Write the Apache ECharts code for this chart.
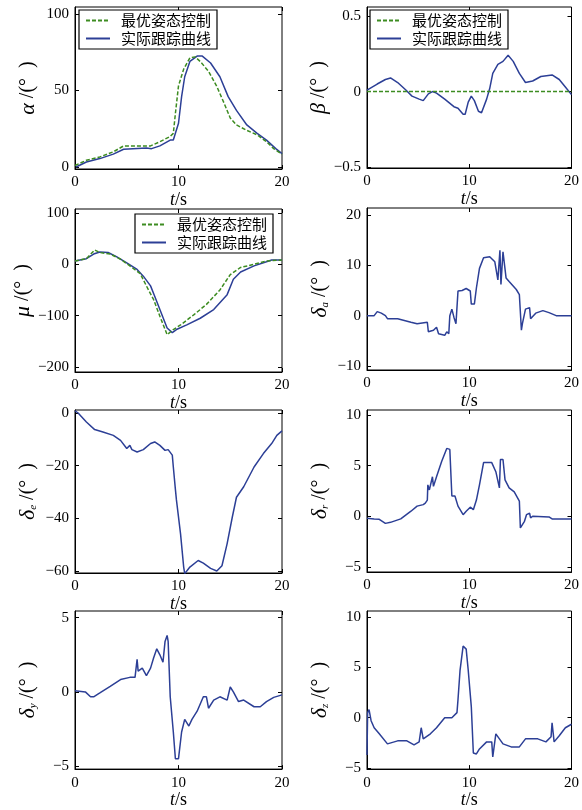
<!DOCTYPE html>
<html>
<head>
<meta charset="utf-8">
<script src="https://cdn.jsdelivr.net/npm/echarts@6/dist/echarts.min.js"></script>
<style>
html, body { margin: 0; padding: 0; background: #fff; }
#chart { width: 582px; height: 810px; }
</style>
</head>
<body>
<div id="chart"></div>
<script>
// 时间轴刻度
const xTicks = [0, 10, 20];

// 各子图纵轴刻度
const alphaTicks = [0, 50, 100];
const betaTicks = [-0.5, 0, 0.5];
const muTicks = [-200, -100, 0, 100];
const deltaATicks = [-10, 0, 10, 20];
const deltaETicks = [-60, -40, -20, 0];
const deltaRTicks = [-5, 0, 5, 10];
const deltaYTicks = [-5, 0, 5];
const deltaZTicks = [-5, 0, 5, 10];

// 攻角 α  [t, 值]
const alphaOpt = [[0,1],[1.1,4.4],[2.4,6.6],[3.7,9.9],[4.7,13.8],[5.6,13.8],[7.3,13.8],[8.2,16.5],[9.2,20],[9.5,22],[9.7,35],[10,53],[10.5,64],[11.1,71.4],[11.6,72],[12.1,69],[12.9,62.6],[13.7,52.7],[14.4,41.8],[15,32],[15.6,27.5],[16.6,24],[17.6,21],[18.5,16.5],[19.2,12],[20,8.4]];
const alphaAct = [[0.1,0],[1.1,3.3],[2.4,5.5],[3.7,8.4],[4.7,11.6],[5.6,12],[6.9,12.5],[7.4,12],[8.2,13.8],[9.2,17.6],[9.5,17.6],[10,28.6],[10.3,46],[10.6,59],[11.1,69],[11.8,72.5],[12.3,72.5],[13.1,68],[14,59],[14.8,46],[15.6,37],[16.6,27.5],[17.6,22],[18.5,17.6],[19.4,12],[20,8.8]];

// 侧滑角 β
const betaOpt = [[0,0],[20,0]];
const betaAct = [[0,0.01],[1,0.05],[1.8,0.08],[2.3,0.09],[3,0.06],[3.8,0.01],[4.4,-0.03],[5.1,-0.05],[5.5,-0.06],[6,-0.015],[6.4,0],[6.8,-0.01],[7.6,-0.05],[8.5,-0.1],[8.9,-0.11],[9.4,-0.15],[9.6,-0.15],[9.9,-0.07],[10.2,-0.03],[10.5,-0.06],[10.9,-0.13],[11.2,-0.14],[11.7,-0.05],[12,0.02],[12.3,0.12],[12.8,0.18],[13.3,0.2],[13.8,0.24],[14.3,0.2],[14.9,0.12],[15.5,0.06],[16.2,0.07],[17,0.1],[18.1,0.11],[18.8,0.08],[19.4,0.03],[20,-0.02]];

// 航迹滚转角 μ
const muOpt = [[0,6.5],[1.1,11],[1.9,28],[2.4,23],[3.4,20],[4.4,10],[5.3,-3],[6.3,-18],[6.9,-42],[7.6,-69],[8.2,-101],[8.9,-137],[9,-140],[9.5,-127],[10.2,-118],[11.5,-98],[12.7,-78],[14,-50],[15,-20],[16,-6],[17.3,0],[18.5,6.5],[20,8.5]];
const muAct = [[0,6.5],[1.1,11],[1.8,20],[2.4,24],[3.2,23],[4,15],[5,3],[6,-10],[6.6,-23],[7.3,-42],[7.7,-62],[8.2,-88],[8.9,-124],[9.4,-133],[9.8,-127],[10.8,-118],[12.1,-105],[13.4,-88],[14.7,-59],[15.3,-29],[16,-15],[17.3,-3],[18.5,5],[19,8.5],[20,8.5]];

// 舵面偏转 δa
const deltaA = [[0,0],[0.7,0],[1,0.8],[1.4,0.5],[1.8,0],[2,-0.6],[3,-0.6],[4.3,-1.3],[4.9,-1.6],[5,-1.3],[5.9,-1.3],[6,-3.2],[6.5,-2.9],[6.8,-2.3],[7,-3.6],[7.6,-3.9],[7.8,-3.2],[8,-3.6],[8.1,0],[8.3,1.3],[8.5,-0.3],[8.7,-1.6],[8.9,4.9],[9.3,5],[9.7,5.4],[10.1,4.9],[10.2,2.3],[10.5,2.3],[10.7,5.5],[11,9.4],[11.4,11.5],[12,11.7],[12.5,10.7],[12.8,7.1],[13,13],[13.1,6.2],[13.3,12.7],[13.6,7.5],[13.9,6.8],[14.6,5.2],[14.9,4.2],[15.1,-2.9],[15.2,-1.6],[15.5,1.3],[15.9,1.6],[16,-0.6],[16.5,0.5],[17.2,1],[17.8,0.6],[18.5,0],[20,0]];

// δe
const deltaE = [[0,0.8],[0.3,0],[1.1,-3.4],[1.9,-6.3],[2.7,-7.2],[3.7,-8.5],[4.4,-10.4],[5,-13.5],[5.3,-12.3],[5.5,-13.9],[6,-14.8],[6.6,-13.9],[7.3,-11.6],[7.7,-11],[8.2,-12.3],[8.7,-14.2],[9,-13.9],[9.4,-16],[9.5,-20.5],[9.7,-29],[9.8,-33],[10.2,-46],[10.5,-58.5],[10.6,-61],[11.1,-58.5],[11.9,-56],[12.4,-57],[13.1,-59],[13.7,-60],[14.2,-58],[14.7,-49.6],[15.2,-39.5],[15.6,-32],[16.3,-28],[17.3,-20.5],[18.2,-15.4],[19,-11.6],[19.5,-8.5],[20,-6.8]];

// δr
const deltaR = [[0,-0.2],[0.7,-0.26],[1.2,-0.3],[1.8,-0.7],[2.3,-0.6],[3.3,-0.26],[4.3,0.5],[4.9,1],[5.5,1.15],[5.7,1.3],[5.9,1.6],[5.95,3.1],[6.1,2.6],[6.4,3.9],[6.5,2.95],[6.8,3.9],[7.3,5.4],[7.8,6.7],[8.1,6.6],[8.3,2],[8.6,2],[8.9,1],[9.4,0.16],[9.7,0.5],[10.1,0.9],[10.4,0.65],[10.7,1.6],[11,3.1],[11.4,5.3],[12.2,5.3],[12.6,4.4],[12.95,2.8],[13.05,5.6],[13.3,5.6],[13.5,3.6],[13.9,2.8],[14.4,2.4],[14.9,1.5],[15,-1.15],[15.4,-0.5],[15.6,0.16],[15.9,0.3],[16,-0.16],[16.2,0],[17.8,-0.06],[18.1,-0.26],[20,-0.26]];

// δy
const deltaY = [[0,0.07],[1,0],[1.5,-0.33],[1.8,-0.33],[2.4,-0.07],[3.4,0.37],[4.4,0.83],[5.3,0.98],[5.8,0.98],[6,2.2],[6.1,1.4],[6.5,1.6],[6.9,1.1],[7.3,1.6],[7.6,2.3],[7.9,2.9],[8.2,2.5],[8.5,2],[8.7,3.4],[8.9,3.8],[9,3.4],[9.2,-0.33],[9.5,-2.7],[9.7,-4.5],[10,-4.5],[10.3,-2.7],[10.6,-1.85],[11,-2.3],[11.3,-1.85],[11.8,-1.3],[12.4,-0.33],[12.7,-0.33],[12.9,-1.1],[13.4,-0.55],[14,-0.33],[14.7,-0.55],[15,0.33],[15.3,0],[15.8,-0.65],[16.3,-0.55],[17.3,-1],[17.9,-1],[18.5,-0.65],[19.2,-0.37],[20,-0.2]];

// δz
const deltaZ = [[0,-3.7],[0.06,0.5],[0.2,0.8],[0.4,-0.3],[0.7,-1],[1.2,-1.6],[2,-2.6],[3,-2.3],[3.9,-2.3],[4.6,-2.7],[5.1,-2.4],[5.3,-1],[5.5,-2.1],[6.2,-1.6],[6.8,-1],[7.6,0],[8.3,0],[8.8,0.5],[8.9,1.8],[9.1,4.7],[9.4,7.1],[9.7,6.8],[9.9,4.7],[10.2,1.1],[10.4,-3.5],[10.7,-3.6],[11,-3.1],[11.7,-2.4],[12.2,-2.4],[12.3,-3.9],[12.6,-1.6],[13.3,-2.6],[14.1,-2.9],[14.9,-2.9],[15.5,-2.1],[16.7,-2.1],[17.5,-2.4],[18,-1.9],[18.1,-0.5],[18.3,-2.4],[18.8,-1.8],[19.4,-1],[20,-0.65]];

const BLUE = '#2c3f96';
const GREEN = '#3d8c21';
const SERIF = 'Liberation Serif';
const CJK = 'Noto Sans CJK SC';

// 子图布局
const panels = [
  {left: 75,  top: 7,   width: 207, height: 162, min: -1.3,  max: 104.6, ticks: alphaTicks,  label: '{g|α}{n| /(°  )}',
   series: [['最优姿态控制', alphaOpt, true], ['实际跟踪曲线', alphaAct, false]], legend: {left: 79, top: 10}},
  {left: 367, top: 7,   width: 207, height: 161, min: -0.506, max: 0.56, ticks: betaTicks,   label: '{g|β}{n| /(°  )}',
   series: [['最优姿态控制', betaOpt, true], ['实际跟踪曲线', betaAct, false]], legend: {left: 370, top: 10}},
  {left: 75,  top: 209, width: 207, height: 163, min: -209.7, max: 107.8, ticks: muTicks,    label: '{g|μ}{n| /(°  )}',
   series: [['最优姿态控制', muOpt, true], ['实际跟踪曲线', muAct, false]], legend: {left: 135, top: 214}},
  {left: 367, top: 208, width: 207, height: 162, min: -10.8, max: 21.4,  ticks: deltaATicks, label: '{g|δ}{s|a}{n| /(°  )}',
   series: [['实际跟踪曲线', deltaA, false]]},
  {left: 75,  top: 410, width: 207, height: 163, min: -60.76, max: 1.14, ticks: deltaETicks, label: '{g|δ}{s|e}{n| /(°  )}',
   series: [['实际跟踪曲线', deltaE, false]]},
  {left: 367, top: 410, width: 207, height: 162, min: -5.5,  max: 10.49, ticks: deltaRTicks, label: '{g|δ}{s|r}{n| /(°  )}',
   series: [['实际跟踪曲线', deltaR, false]]},
  {left: 75,  top: 611, width: 207, height: 164, min: -5.2,  max: 5.45,  ticks: deltaYTicks, label: '{g|δ}{s|y}{n| /(°  )}',
   series: [['实际跟踪曲线', deltaY, false]]},
  {left: 367, top: 611, width: 207, height: 162, min: -5.1,  max: 10.58, ticks: deltaZTicks, label: '{g|δ}{s|z}{n| /(°  )}',
   series: [['实际跟踪曲线', deltaZ, false]]}
];

const fmt = v => String(v).replace('-', '\u2212');

const option = {
  animation: false,
  backgroundColor: '#fff',
  grid: [], xAxis: [], yAxis: [], series: [], legend: []
};

panels.forEach((p, i) => {
  option.grid.push({
    left: p.left, top: p.top, width: p.width, height: p.height,
    show: true, borderColor: '#000', borderWidth: 1, backgroundColor: 'transparent'
  });
  // 下方时间轴
  option.xAxis.push({
    type: 'value', gridIndex: i, min: 0, max: 20, interval: 10,
    name: '{i|t}/s', nameLocation: 'middle', nameGap: 17,
    nameTextStyle: {color: '#000', fontFamily: SERIF, fontSize: 18,
      rich: {i: {fontFamily: SERIF, fontStyle: 'italic', fontSize: 18, color: '#000'}}},
    axisLine: {show: true, onZero: false, lineStyle: {color: '#000', width: 1}},
    axisTick: {inside: true, length: 4, lineStyle: {color: '#000'}},
    axisLabel: {color: '#000', fontFamily: SERIF, fontSize: 15, margin: 6, customValues: xTicks, formatter: fmt},
    splitLine: {show: false}
  });
  // 上方镜像刻度
  option.xAxis.push({
    type: 'value', gridIndex: i, position: 'top', min: 0, max: 20, interval: 10,
    axisLine: {show: false, onZero: false},
    axisTick: {inside: true, length: 4, lineStyle: {color: '#000'}},
    axisLabel: {show: false}, splitLine: {show: false}
  });
  option.yAxis.push({
    type: 'value', gridIndex: i, min: p.min, max: p.max,
    name: p.label, nameLocation: 'middle', nameGap: 36, nameRotate: 90,
    nameTextStyle: {color: '#000', fontFamily: SERIF, fontSize: 20,
      rich: {
        g: {fontFamily: SERIF, fontStyle: 'italic', fontSize: 22, color: '#000'},
        s: {fontFamily: SERIF, fontStyle: 'italic', fontSize: 11, color: '#000', verticalAlign: 'bottom', padding: [9, 0, 0, 0]},
        n: {fontFamily: SERIF, fontSize: 20, color: '#000'}
      }},
    axisLine: {show: true, onZero: false, lineStyle: {color: '#000', width: 1}},
    axisTick: {inside: true, length: 4, customValues: p.ticks, lineStyle: {color: '#000'}},
    axisLabel: {color: '#000', fontFamily: SERIF, fontSize: 15, margin: 6, customValues: p.ticks, formatter: fmt},
    splitLine: {show: false}
  });
  option.yAxis.push({
    type: 'value', gridIndex: i, position: 'right', min: p.min, max: p.max,
    axisLine: {show: false, onZero: false},
    axisTick: {inside: true, length: 4, customValues: p.ticks, lineStyle: {color: '#000'}},
    axisLabel: {show: false, customValues: p.ticks}, splitLine: {show: false}
  });
  p.series.forEach(s => {
    const dashed = s[2];
    option.series.push({
      name: s[0], type: 'line', xAxisIndex: 2 * i, yAxisIndex: 2 * i,
      data: s[1], symbol: 'none', showSymbol: false, z: dashed ? 3 : 2,
      lineStyle: {color: dashed ? GREEN : BLUE, width: dashed ? 1.5 : 1.5, type: dashed ? [4, 2] : 'solid'},
      itemStyle: {color: dashed ? GREEN : BLUE}
    });
  });
  if (p.legend) {
    option.legend.push({
      left: p.legend.left, top: p.legend.top, orient: 'vertical',
      data: ['最优姿态控制', '实际跟踪曲线'],
      backgroundColor: '#fff', borderColor: '#000', borderWidth: 1.2,
      padding: [3, 6, 3, 6], itemGap: 3, itemWidth: 24, itemHeight: 10,
      selectedMode: false,
      itemStyle: {color: 'transparent', borderWidth: 0},
      textStyle: {color: '#000', fontFamily: CJK, fontSize: 15, padding: [0, 0, 0, 6]}
    });
  }
});

const myChart = echarts.init(document.getElementById('chart'));
myChart.setOption(option);
</script>
</body>
</html>
